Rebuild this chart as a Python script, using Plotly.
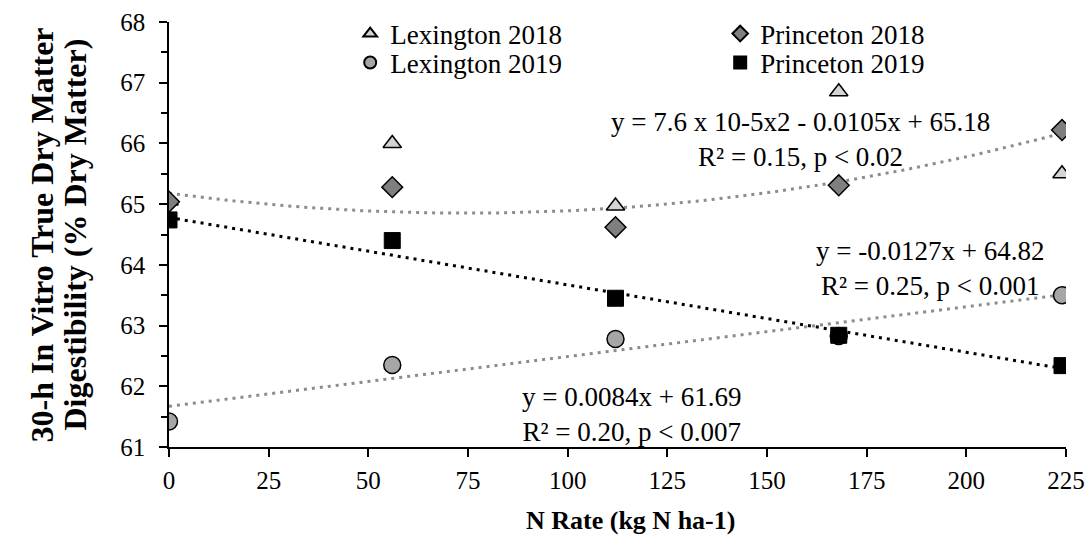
import plotly.graph_objects as go
import numpy as np

n_rate = [0, 56, 112, 168, 224]
lex_2018 = [65.05, 66.00, 64.97, 66.85, 65.50]
prin_2018 = [65.04, 65.28, 64.62, 65.31, 66.22]
lex_2019 = [61.42, 62.35, 62.78, 62.83, 63.50]
prin_2019 = [64.74, 64.40, 63.45, 62.84, 62.34]

# trend-line coefficients (highest power first), as drawn in the picture
quad_2018 = [5.9e-5, -0.0088, 65.18]
lin_lex_2019 = [0.0082, 61.67]
lin_prin_2019 = [-0.0111, 64.78]

eq_texts = [
    "y = 7.6 x 10-5x2 - 0.0105x + 65.18<br>R² = 0.15, p < 0.02",
    "y = -0.0127x + 64.82<br>R² = 0.25, p < 0.001",
    "y = 0.0084x + 61.69<br>R² = 0.20, p < 0.007",
]
y_title_lines = ["30-h In Vitro True Dry Matter", "Digestibility (% Dry Matter)"]
x_title = "N Rate (kg N ha-1)"

FONT = "Liberation Serif"
xs = np.linspace(0, 224, 80)

fig = go.Figure()
fig.add_trace(go.Scatter(x=xs, y=np.polyval(quad_2018, xs), mode="lines",
                         line=dict(color="#8c8c8c", width=3, dash="3px,5px"),
                         showlegend=False, hoverinfo="skip"))
fig.add_trace(go.Scatter(x=xs, y=np.polyval(lin_lex_2019, xs), mode="lines",
                         line=dict(color="#8c8c8c", width=3, dash="3px,5px"),
                         showlegend=False, hoverinfo="skip"))
fig.add_trace(go.Scatter(x=xs, y=np.polyval(lin_prin_2019, xs), mode="lines",
                         line=dict(color="#000000", width=3, dash="3px,5px"),
                         showlegend=False, hoverinfo="skip"))

fig.add_trace(go.Scatter(x=n_rate, y=lex_2018, mode="markers", name="Lexington 2018",
                         marker=dict(symbol="triangle-up", size=16, color="#d4d4d4",
                                     line=dict(color="black", width=1.5)),
                         legend="legend"))
fig.add_trace(go.Scatter(x=n_rate, y=prin_2018, mode="markers", name="Princeton 2018",
                         marker=dict(symbol="diamond", size=16, color="#7f7f7f",
                                     line=dict(color="black", width=1.5)),
                         legend="legend"))
fig.add_trace(go.Scatter(x=n_rate, y=lex_2019, mode="markers", name="Lexington 2019",
                         marker=dict(symbol="circle", size=17, color="#a6a6a6",
                                     line=dict(color="black", width=1.5)),
                         legend="legend2"))
fig.add_trace(go.Scatter(x=n_rate, y=prin_2019, mode="markers", name="Princeton 2019",
                         marker=dict(symbol="square", size=16, color="#000000",
                                     line=dict(color="black", width=1)),
                         legend="legend2"))

ann_pos = [(158.3, 66.07), (190.9, 63.94), (115.9, 61.53)]
for t, (ax, ay) in zip(eq_texts, ann_pos):
    fig.add_annotation(x=ax, y=ay, xref="x", yref="y", text=t, showarrow=False,
                       align="center", font=dict(family=FONT, size=27, color="black"))

# axis titles
for t, px in zip(y_title_lines, [-0.1416, -0.1048]):
    fig.add_annotation(x=px, y=0.5, xref="paper", yref="paper", text="<b>" + t + "</b>",
                       textangle=-90, showarrow=False, xanchor="center", yanchor="middle",
                       font=dict(family=FONT, size=32, color="black"))
fig.add_annotation(x=0.515, y=-0.172, xref="paper", yref="paper", text="<b>" + x_title + "</b>",
                   showarrow=False, xanchor="center", yanchor="middle",
                   font=dict(family=FONT, size=26, color="black"))

leg_common = dict(orientation="h", xanchor="left", yanchor="middle",
                  font=dict(family=FONT, size=27, color="black"),
                  bgcolor="rgba(0,0,0,0)", entrywidth=325, itemsizing="constant",
                  tracegroupgap=0, itemwidth=30)

fig.update_layout(
    width=1092, height=538,
    margin=dict(l=169, r=26, t=22, b=91, autoexpand=False),
    plot_bgcolor="white", paper_bgcolor="white",
    font=dict(family=FONT, size=25, color="black"),
    legend=dict(x=0.202, y=(447 - 34) / 425, **leg_common),
    legend2=dict(x=0.202, y=(447 - 63) / 425, **leg_common),
    xaxis=dict(range=[0, 225], tickvals=[0, 25, 50, 75, 100, 125, 150, 175, 200, 225],
               showline=True, linecolor="black", linewidth=1.5, ticks="outside",
               ticklen=8, tickwidth=1.5, tickcolor="black", showgrid=False, zeroline=False,
               ticklabelstandoff=2, tickfont=dict(family=FONT, size=25)),
    yaxis=dict(range=[61, 68], dtick=1, showline=True, linecolor="black", linewidth=1.5,
               ticks="outside", ticklen=8, tickwidth=1.5, tickcolor="black",
               minor=dict(dtick=0.5, ticks="outside", ticklen=6, tickwidth=1.5, tickcolor="black"),
               showgrid=False, zeroline=False, ticklabelstandoff=9,
               tickfont=dict(family=FONT, size=25)),
)

fig.write_html("out.html")
